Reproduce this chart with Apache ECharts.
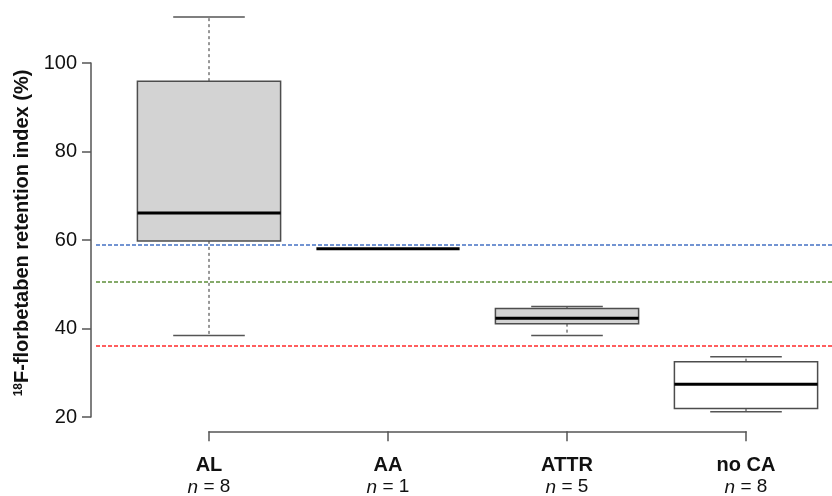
<!DOCTYPE html>
<html>
<head>
<meta charset="utf-8">
<script src="https://cdn.jsdelivr.net/npm/echarts@6/dist/echarts.min.js"></script>
<style>html,body{margin:0;padding:0;background:#fff}#c{width:832px;height:496px}</style>
</head>
<body>
<div id="c"></div>
<script>
const categories = ['AL', 'AA', 'ATTR', 'no CA'];
const nCounts = [8, 1, 5, 8];
const whiskerLow = [38.4, 58.0, 38.4, 21.2];
const q1 = [59.8, 58.0, 41.1, 21.9];
const median = [66.1, 58.0, 42.3, 27.4];
const q3 = [95.9, 58.0, 44.5, 32.5];
const whiskerHigh = [110.4, 58.0, 45.0, 33.6];
const yTicks = [20, 40, 60, 80, 100];
const refLines = [59.0, 50.5, 36.2];

const boxFills = ['#d3d3d3', '#d3d3d3', '#d3d3d3', '#ffffff'];
const refColors = ['#4472c4', '#5e8f3a', '#ff2a2a'];

const boxData = categories.map((c, i) => [i, whiskerLow[i], q1[i], median[i], q3[i], whiskerHigh[i]]);

function renderBox(params, api) {
  const i = params.dataIndex;
  const x = api.value(0);
  const pLo = api.coord([x, api.value(1)]);
  const pQ1 = api.coord([x, api.value(2)]);
  const pMed = api.coord([x, api.value(3)]);
  const pQ3 = api.coord([x, api.value(4)]);
  const pHi = api.coord([x, api.value(5)]);
  const w = api.size([0.8, 0])[0];
  const cx = pMed[0];
  const children = [];
  const single = api.value(2) === api.value(4);
  if (!single) {
    children.push({type: 'line', shape: {x1: cx, y1: pQ3[1], x2: cx, y2: pHi[1]},
      style: {stroke: '#333', lineWidth: 1, lineDash: [3, 3]}});
    children.push({type: 'line', shape: {x1: cx, y1: pQ1[1], x2: cx, y2: pLo[1]},
      style: {stroke: '#333', lineWidth: 1, lineDash: [3, 3]}});
    children.push({type: 'line', shape: {x1: cx - w / 4, y1: pHi[1], x2: cx + w / 4, y2: pHi[1]},
      style: {stroke: '#555', lineWidth: 1.5}});
    children.push({type: 'line', shape: {x1: cx - w / 4, y1: pLo[1], x2: cx + w / 4, y2: pLo[1]},
      style: {stroke: '#555', lineWidth: 1.5}});
    children.push({type: 'rect', shape: {x: cx - w / 2, y: pQ3[1], width: w, height: pQ1[1] - pQ3[1]},
      style: {fill: boxFills[i], stroke: '#4d4d4d', lineWidth: 1.5}});
  }
  children.push({type: 'line', shape: {x1: cx - w / 2, y1: pMed[1], x2: cx + w / 2, y2: pMed[1]},
    style: {stroke: '#000', lineWidth: 3}});
  return {type: 'group', children: children};
}

const chart = echarts.init(document.getElementById('c'), null, {renderer: 'canvas'});
const font = '"Liberation Sans", Arial, sans-serif';
chart.setOption({
  animation: false,
  backgroundColor: '#fff',
  grid: [
    {left: 96, right: 0, top: 63, bottom: 79},
    {left: 209, width: 537, top: 431, bottom: 64}
  ],
  xAxis: [
    {gridIndex: 0, type: 'value', min: -0.6313, max: 3.4804, show: false},
    {gridIndex: 1, type: 'value', min: 0, max: 3, interval: 1, position: 'bottom',
      axisLine: {show: true, onZero: false, lineStyle: {color: '#555', width: 1.5}},
      axisTick: {show: true, length: 10, lineStyle: {color: '#555', width: 1.5}},
      splitLine: {show: false},
      axisLabel: {
        margin: 23,
        formatter: v => '{b|' + categories[v] + '}\n{i|n}{r| = ' + nCounts[v] + '}',
        rich: {
          b: {fontFamily: font, fontWeight: 'bold', fontSize: 20, color: '#111', lineHeight: 22, align: 'center'},
          i: {fontFamily: font, fontStyle: 'italic', fontSize: 19, color: '#111', lineHeight: 22},
          r: {fontFamily: font, fontSize: 19, color: '#111', lineHeight: 22}
        }
      }
    }
  ],
  yAxis: [
    {gridIndex: 0, type: 'value', min: 20, max: 100, interval: 20, offset: 5, position: 'left',
      axisLine: {show: true, onZero: false, lineStyle: {color: '#555', width: 1.5}},
      axisTick: {show: true, length: 9, lineStyle: {color: '#555', width: 1.5}},
      splitLine: {show: false},
      axisLabel: {margin: 14, fontFamily: font, fontSize: 20, color: '#111',
        customValues: yTicks},
      name: '{s|18}{t|F-florbetaben retention index (%)}',
      nameLocation: 'middle', nameGap: 53,
      nameTextStyle: {
        padding: [0, 0, 0, 14],
        rich: {
          s: {fontFamily: font, fontWeight: 'bold', fontSize: 12, color: '#111', verticalAlign: 'top', padding: [0, 0, 8, 0]},
          t: {fontFamily: font, fontWeight: 'bold', fontSize: 20, color: '#111'}
        }
      }
    },
    {gridIndex: 1, type: 'value', show: false}
  ],
  series: [
    {
      type: 'custom', xAxisIndex: 0, yAxisIndex: 0, clip: false,
      renderItem: renderBox,
      data: boxData,
      encode: {x: 0, y: [1, 2, 3, 4, 5]},
      markLine: {
        silent: true, symbol: 'none', label: {show: false},
        data: refLines.map((v, k) => ({yAxis: v, lineStyle: {color: refColors[k], type: [4, 2], width: 1.5}}))
      }
    }
  ]
});
</script>
</body>
</html>
